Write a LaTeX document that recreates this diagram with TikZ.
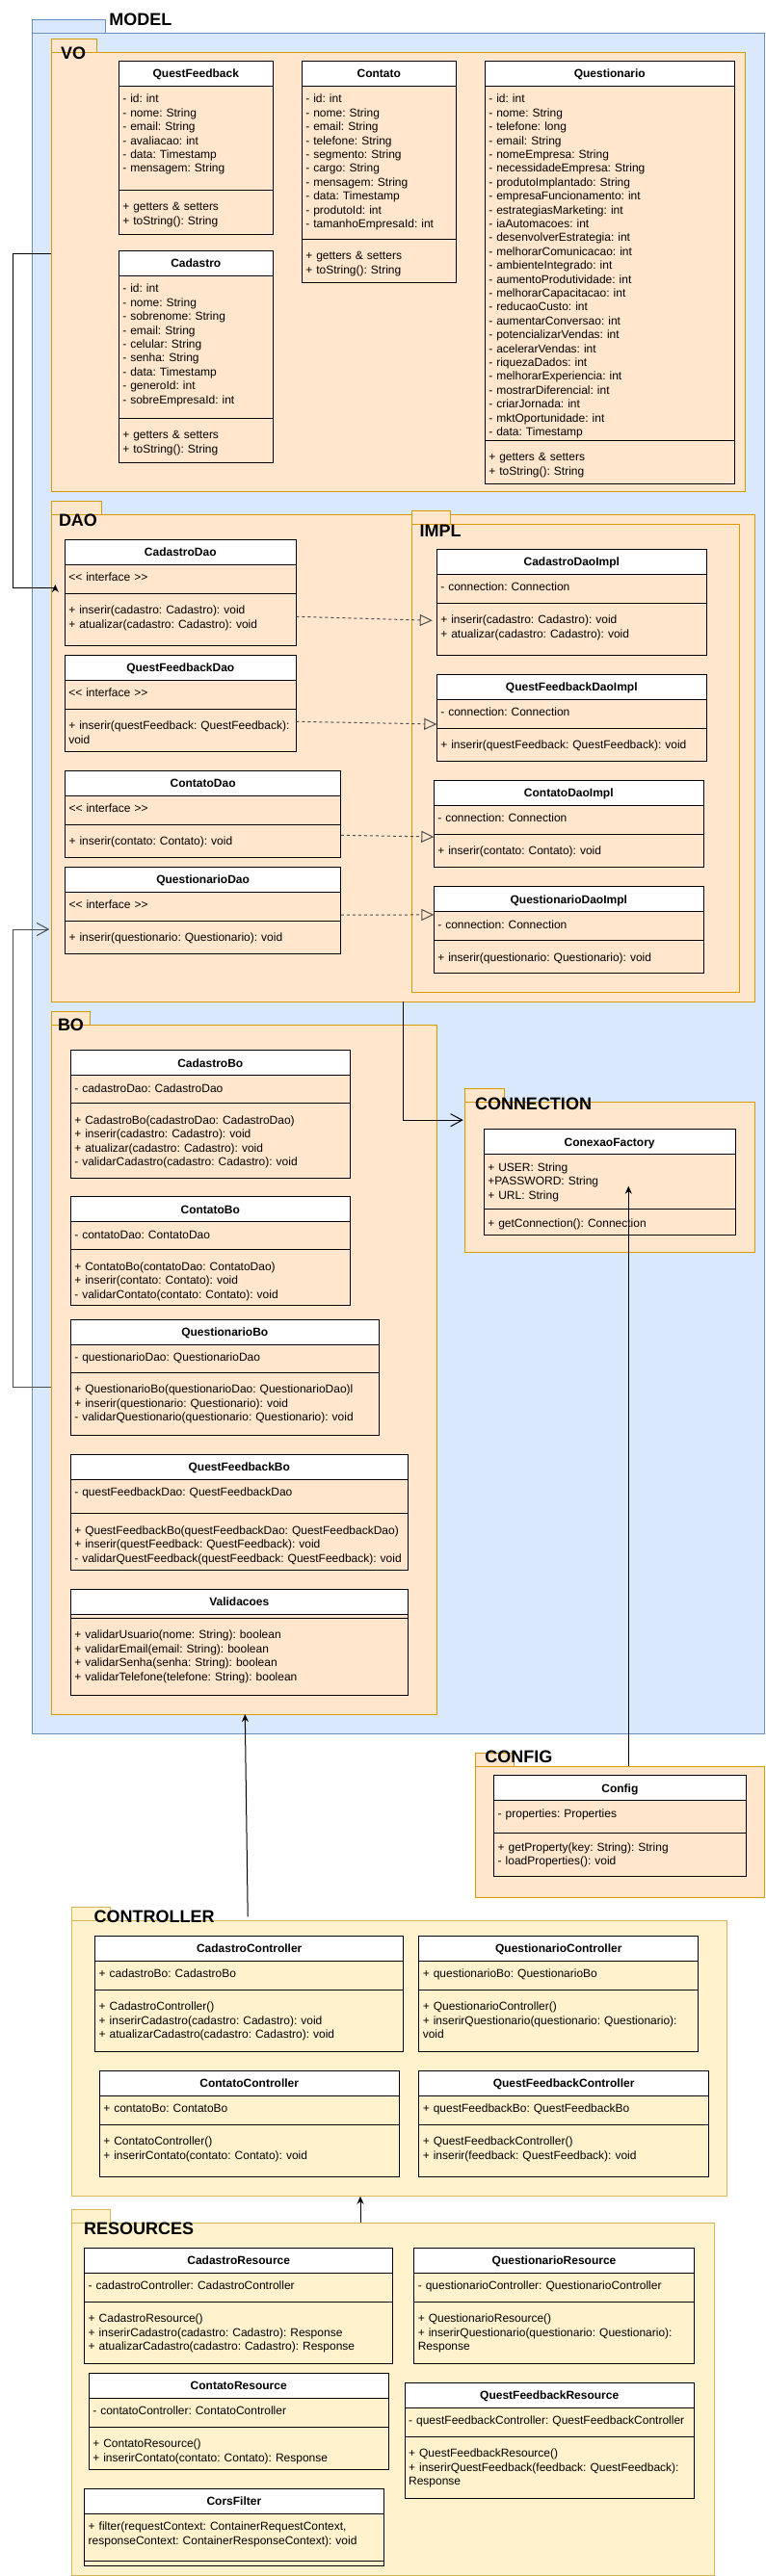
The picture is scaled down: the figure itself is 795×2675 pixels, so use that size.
\documentclass[tikz,border=0pt]{standalone}
\usepackage{fontspec}
\setmainfont{Liberation Sans}
\usetikzlibrary{arrows.meta,positioning}
\frenchspacing

\definecolor{modelfill}{HTML}{DAE8FC}
\definecolor{modelline}{HTML}{6C8EBF}
\definecolor{pkgfill}{HTML}{FFE6CC}
\definecolor{pkgline}{HTML}{D79B00}
\definecolor{ctrlfill}{HTML}{FFF2CC}
\definecolor{ctrlline}{HTML}{D6B656}
\definecolor{linkgray}{HTML}{4D4D4D}

% [method offset]{name}{(x,y)}{width}{attr height}{method height}{title}{attributes}{methods}
\newcommand{\umlclass}[9][21.5]{%
  \node[classhead, minimum width=#4] (#2) at #3 {#7};
  \node[classpart, minimum width=#4, minimum height=#5, below=0pt of #2] (#2-a) {};
  \node[classpart, minimum width=#4, minimum height=#6, below=0pt of #2-a] (#2-m) {};
  \node[classtext] (#2-at) at ([xshift=4pt,yshift=-17.5pt]#2-a.north west) {#8};
  \node[classtext] (#2-mt) at ([xshift=4pt,yshift=-#1pt]#2-m.north west) {#9};
}

\begin{document}
\begin{tikzpicture}[x=1pt, y=-1pt, line width=1pt,
    every node/.style={inner sep=0pt, outer sep=0pt, font=\frenchspacing\fontsize{12pt}{14.4pt}\selectfont},
    classhead/.style={draw=black, fill=white, anchor=north west, minimum height=26pt,
      text height=9pt, text depth=0pt, font=\bfseries\fontsize{12pt}{14.4pt}\selectfont},
    classpart/.style={draw=black},
    classtext/.style={anchor=base west, align=left, text width=440pt},
    pkgbody/.style={anchor=north west},
    pkgtab/.style={anchor=south west, minimum height=14pt},
    pkglabel/.style={anchor=base west, font=\bfseries\fontsize{18pt}{21.6pt}\selectfont},
    modelcol/.style={fill=modelfill, draw=modelline},
    pkgcol/.style={fill=pkgfill, draw=pkgline},
    ctrlcol/.style={fill=ctrlfill, draw=ctrlline},
    fillarrow/.style={-{Stealth[length=8pt,width=7pt,inset=2.5pt]}},
    openarrow/.style={-{Straight Barb[length=12pt,width=13pt]}},
    realize/.style={draw=linkgray, dash pattern=on 3pt off 3pt, -{Triangle[open,length=13pt,width=12pt]}}]
  \useasboundingbox (0,0) rectangle (795,2675);

  % packages
  \node[pkgbody, modelcol, minimum width=760, minimum height=1766] (model) at (33.3,34) {};
  \node[pkgtab, modelcol, minimum width=76] (model-tab) at (model.north west) {};
  \node[pkgbody, pkgcol, minimum width=720, minimum height=456] (vo) at (53.3,54) {};
  \node[pkgtab, pkgcol, minimum width=47] (vo-tab) at (vo.north west) {};
  \node[pkgbody, pkgcol, minimum width=730, minimum height=506] (dao) at (53.3,534) {};
  \node[pkgtab, pkgcol, minimum width=52] (dao-tab) at (dao.north west) {};
  \node[pkgbody, pkgcol, minimum width=340, minimum height=486] (impl) at (427.3,544.3) {};
  \node[pkgtab, pkgcol, minimum width=40] (impl-tab) at (impl.north west) {};
  \node[pkgbody, pkgcol, minimum width=400, minimum height=716] (bo) at (53.3,1064) {};
  \node[pkgtab, pkgcol, minimum width=40] (bo-tab) at (bo.north west) {};
  \node[pkgbody, pkgcol, minimum width=300.6, minimum height=155.7] (connection) at (482.7,1144.3) {};
  \node[pkgtab, pkgcol, minimum width=40.6] (connection-tab) at (connection.north west) {};
  \node[pkgbody, pkgcol, minimum width=300, minimum height=135.7] (config) at (493.3,1834.3) {};
  \node[pkgtab, pkgcol, minimum width=40] (config-tab) at (config.north west) {};
  \node[pkgbody, ctrlcol, minimum width=680.4, minimum height=286.4] (controller) at (74,1994.3) {};
  \node[pkgtab, ctrlcol, minimum width=40.4] (controller-tab) at (controller.north west) {};
  \node[pkgbody, ctrlcol, minimum width=667, minimum height=366] (resources) at (74,2308.3) {};
  \node[pkgtab, ctrlcol, minimum width=40.4] (resources-tab) at (resources.north west) {};

  % VO
  \umlclass{qf}{(123.3,63.3)}{160}{108}{46}{QuestFeedback}
    {- id: int\\- nome: String\\- email: String\\- avaliacao: int\\- data: Timestamp\\- mensagem: String}
    {+ getters \& setters\\+ toString(): String}
  \umlclass{ct}{(313.3,63.3)}{160}{159}{45}{Contato}
    {- id: int\\- nome: String\\- email: String\\- telefone: String\\- segmento: String\\- cargo: String\\- mensagem: String\\- data: Timestamp\\- produtoId: int\\- tamanhoEmpresaId: int}
    {+ getters \& setters\\+ toString(): String}
  \umlclass{qs}{(503.3,63.3)}{259}{368}{45.4}{Questionario}
    {- id: int\\- nome: String\\- telefone: long\\- email: String\\- nomeEmpresa: String\\- necessidadeEmpresa: String\\- produtoImplantado: String\\- empresaFuncionamento: int\\- estrategiasMarketing: int\\- iaAutomacoes: int\\- desenvolverEstrategia: int\\- melhorarComunicacao: int\\- ambienteIntegrado: int\\- aumentoProdutividade: int\\- melhorarCapacitacao: int\\- reducaoCusto: int\\- aumentarConversao: int\\- potencializarVendas: int\\- acelerarVendas: int\\- riquezaDados: int\\- melhorarExperiencia: int\\- mostrarDiferencial: int\\- criarJornada: int\\- mktOportunidade: int\\- data: Timestamp}
    {+ getters \& setters\\+ toString(): String}
  \umlclass{cad}{(123.3,260.3)}{160}{148}{46}{Cadastro}
    {- id: int\\- nome: String\\- sobrenome: String\\- email: String\\- celular: String\\- senha: String\\- data: Timestamp\\- generoId: int\\- sobreEmpresaId: int}
    {+ getters \& setters\\+ toString(): String}

  % DAO
  \umlclass{cdao}{(67.3,560.3)}{240}{30}{54}{CadastroDao}
    {{<}{<} interface {>}{>}}
    {+ inserir(cadastro: Cadastro): void\\+ atualizar(cadastro: Cadastro): void}
  \umlclass{qfdao}{(67.3,680.3)}{240}{30}{44}{QuestFeedbackDao}
    {{<}{<} interface {>}{>}}
    {+ inserir(questFeedback: QuestFeedback):\\void}
  \umlclass{ctdao}{(67.5,800.3)}{286.3}{30}{34}{ContatoDao}
    {{<}{<} interface {>}{>}}
    {+ inserir(contato: Contato): void}
  \umlclass{qsdao}{(67.5,900.2)}{286.3}{30}{34}{QuestionarioDao}
    {{<}{<} interface {>}{>}}
    {+ inserir(questionario: Questionario): void}

  % IMPL
  \umlclass{cdaoi}{(453.3,570.3)}{280}{30}{54}{CadastroDaoImpl}
    {- connection: Connection}
    {+ inserir(cadastro: Cadastro): void\\+ atualizar(cadastro: Cadastro): void}
  \umlclass{qfdaoi}{(453.3,700.3)}{280}{30}{34}{QuestFeedbackDaoImpl}
    {- connection: Connection}
    {+ inserir(questFeedback: QuestFeedback): void}
  \umlclass{ctdaoi}{(450.3,810)}{280}{30}{34}{ContatoDaoImpl}
    {- connection: Connection}
    {+ inserir(contato: Contato): void}
  \umlclass{qsdaoi}{(450.3,920.5)}{280}{30}{34}{QuestionarioDaoImpl}
    {- connection: Connection}
    {+ inserir(questionario: Questionario): void}

  % BO
  \umlclass{cbo}{(73.3,1090.7)}{290}{29}{78}{CadastroBo}
    {- cadastroDao: CadastroDao}
    {+ CadastroBo(cadastroDao: CadastroDao)\\+ inserir(cadastro: Cadastro): void\\+ atualizar(cadastro: Cadastro): void\\- validarCadastro(cadastro: Cadastro): void}
  \umlclass{ctbo}{(73.3,1242.7)}{290}{29}{58}{ContatoBo}
    {- contatoDao: ContatoDao}
    {+ ContatoBo(contatoDao: ContatoDao)\\+ inserir(contato: Contato): void\\- validarContato(contato: Contato): void}
  \umlclass{qsbo}{(73.3,1370.3)}{320}{29}{65}{QuestionarioBo}
    {- questionarioDao: QuestionarioDao}
    {+ QuestionarioBo(questionarioDao: QuestionarioDao)l\\+ inserir(questionario: Questionario): void\\- validarQuestionario(questionario: Questionario): void}
  \umlclass{qfbo}{(73.3,1510.3)}{350}{35.4}{58.6}{QuestFeedbackBo}
    {- questFeedbackDao: QuestFeedbackDao}
    {+ QuestFeedbackBo(questFeedbackDao: QuestFeedbackDao)\\+ inserir(questFeedback: QuestFeedback): void\\- validarQuestFeedback(questFeedback: QuestFeedback): void}
  \umlclass{val}{(73.3,1650.3)}{350}{4}{80}{Validacoes}
    {}
    {+ validarUsuario(nome: String): boolean\\+ validarEmail(email: String): boolean\\+ validarSenha(senha: String): boolean\\+ validarTelefone(telefone: String): boolean}

  % CONNECTION and CONFIG
  \umlclass[19.5]{fac}{(502.3,1172.7)}{260.7}{56.3}{27.4}{ConexaoFactory}
    {+ USER: String\\+PASSWORD: String\\+ URL: String}
    {+ getConnection(): Connection}
  \umlclass[18.6]{cfg}{(512.7,1843.7)}{261.3}{34}{44.3}{Config}
    {- properties: Properties}
    {+ getProperty(key: String): String\\- loadProperties(): void}

  % CONTROLLER
  \umlclass{cctl}{(98.7,2010.3)}{320}{30}{64}{CadastroController}
    {+ cadastroBo: CadastroBo}
    {+ CadastroController()\\+ inserirCadastro(cadastro: Cadastro): void\\+ atualizarCadastro(cadastro: Cadastro): void}
  \umlclass{qsctl}{(434.8,2010.3)}{290}{30}{64}{QuestionarioController}
    {+ questionarioBo: QuestionarioBo}
    {+ QuestionarioController()\\+ inserirQuestionario(questionario: Questionario):\\void}
  \umlclass{ctctl}{(103.3,2150.3)}{310.8}{30}{54}{ContatoController}
    {+ contatoBo: ContatoBo}
    {+ ContatoController()\\+ inserirContato(contato: Contato): void}
  \umlclass{qfctl}{(434.8,2150.3)}{300.7}{30}{54}{QuestFeedbackController}
    {+ questFeedbackBo: QuestFeedbackBo}
    {+ QuestFeedbackController()\\+ inserir(feedback: QuestFeedback): void}

  % RESOURCES
  \umlclass{cres}{(87.7,2334.3)}{320}{30}{64}{CadastroResource}
    {- cadastroController: CadastroController}
    {+ CadastroResource()\\+ inserirCadastro(cadastro: Cadastro): Response\\+ atualizarCadastro(cadastro: Cadastro): Response}
  \umlclass{qsres}{(429.8,2334.3)}{290.5}{30}{64}{QuestionarioResource}
    {- questionarioController: QuestionarioController}
    {+ QuestionarioResource()\\+ inserirQuestionario(questionario: Questionario):\\Response}
  \umlclass{ctres}{(92.3,2464.3)}{310.8}{30}{44}{ContatoResource}
    {- contatoController: ContatoController}
    {+ ContatoResource()\\+ inserirContato(contato: Contato): Response}
  \umlclass{qfres}{(420.1,2474.3)}{300.2}{30}{64}{QuestFeedbackResource}
    {- questFeedbackController: QuestFeedbackController}
    {+ QuestFeedbackResource()\\+ inserirQuestFeedback(feedback: QuestFeedback):\\Response}
  \umlclass{cors}{(87.7,2584.3)}{310.3}{49}{5}{CorsFilter}
    {+ filter(requestContext: ContainerRequestContext,\\responseContext: ContainerResponseContext): void}
    {}

  % connectors
  \draw[realize] ([yshift=3pt]cdao-m.east) -- ([xshift=-4.6pt,yshift=9pt]cdaoi-m.west);
  \draw[realize] ([yshift=9pt]qfdao-m.east) -- ([yshift=4.3pt]qfdaoi-m.north west);
  \draw[realize] ([yshift=6pt]ctdao-m.east) -- ([yshift=-3pt]ctdaoi-m.north west);
  \draw[realize] ([yshift=6pt]qsdao-a.south east) -- ([yshift=-3.4pt]qsdaoi-a.north west);

  \draw[fillarrow] ([yshift=19pt]vo.west) -- ++(-40,0) |- ([xshift=4pt,yshift=177pt]dao.west) -- ++(0,-3);
  \draw[openarrow, draw=linkgray] ([yshift=-18pt]bo.west) -- ++(-40,0) |- ([xshift=-2pt,yshift=-178pt]dao.west);
  \draw[openarrow] (dao.south) |- ([xshift=-2pt,yshift=59pt]connection.west);

  \coordinate (cfgout) at ([xshift=9pt]config.north);
  \draw[fillarrow, shorten >=4.8pt] (cfgout) -- (cfgout |- fac-a.center);
  \draw[fillarrow] ([xshift=-157pt,yshift=4pt]controller.north) -- ([xshift=1pt]bo.south);
  \coordinate (resout) at ([xshift=-33.5pt]resources.north);
  \draw[fillarrow] (resout) -- (resout |- controller.south);

  % package labels
  \node[pkglabel] (model-l) at (113.3,26.7) {MODEL};
  \node[pkglabel] (vo-l) at (63,61.7) {VO};
  \node[pkglabel] (dao-l) at (61,546.7) {DAO};
  \node[pkglabel] (impl-l) at (435.7,557.3) {IMPL};
  \node[pkglabel] (bo-l) at (60,1070.7) {BO};
  \node[pkglabel] (connection-l) at (493,1152.3) {CONNECTION};
  \node[pkglabel] (config-l) at (503.3,1830) {CONFIG};
  \node[pkglabel] (controller-l) at (97.7,1996.7) {CONTROLLER};
  \node[pkglabel] (resources-l) at (87.2,2320.7) {RESOURCES};
\end{tikzpicture}
\end{document}
